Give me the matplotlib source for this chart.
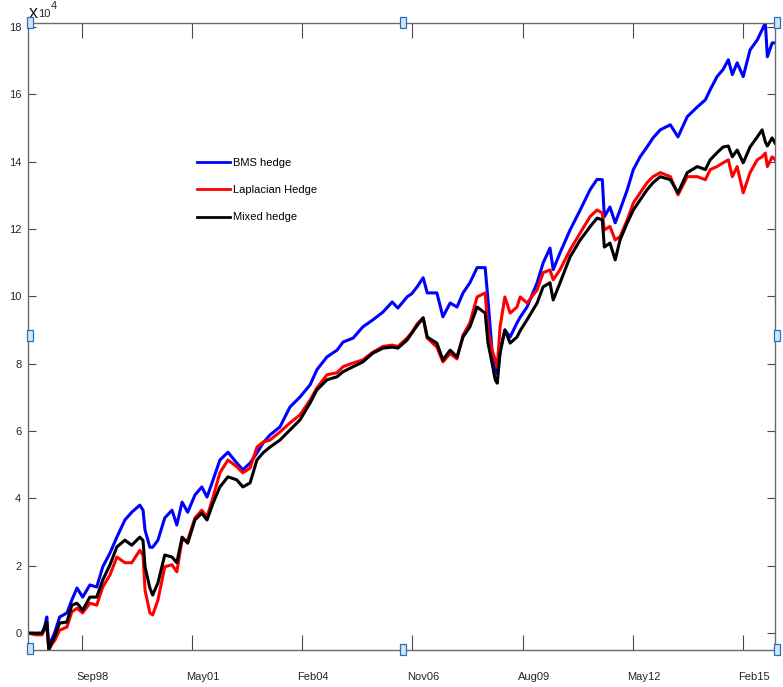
import numpy as np
import matplotlib
matplotlib.use('Agg')
import matplotlib.pyplot as plt
from matplotlib.patches import Rectangle
from matplotlib.transforms import ScaledTranslation

plt.rcParams['font.family'] = ['Liberation Sans', 'DejaVu Sans']

#%% Data: cumulative hedging P&L (units of 1e4), time in decimal years
t = [1997.34, 1997.53, 1997.68, 1997.75, 1997.80, 1997.85, 1997.92, 1998.00, 1998.12, 1998.30,
     1998.42, 1998.55, 1998.69, 1998.87, 1999.04, 1999.19, 1999.37, 1999.54, 1999.74, 1999.91,
     2000.11, 2000.19, 2000.24, 2000.36, 2000.43, 2000.56, 2000.73, 2000.91, 2001.03, 2001.16,
     2001.30, 2001.48, 2001.65, 2001.78, 2001.93, 2002.10, 2002.30, 2002.52, 2002.67, 2002.85,
     2003.02, 2003.17, 2003.34, 2003.59, 2003.84, 2004.09, 2004.34, 2004.51, 2004.76, 2005.01,
     2005.16, 2005.41, 2005.65, 2005.90, 2006.15, 2006.38, 2006.52, 2006.75, 2006.87, 2007.00,
     2007.15, 2007.25, 2007.49, 2007.64, 2007.82, 2007.99, 2008.14, 2008.31, 2008.49, 2008.69,
     2008.76, 2008.86, 2008.94, 2008.99, 2009.06, 2009.18, 2009.31, 2009.48, 2009.56, 2009.73,
     2009.98, 2010.13, 2010.30, 2010.38, 2010.55, 2010.80, 2011.05, 2011.30, 2011.47, 2011.60,
     2011.65, 2011.79, 2011.92, 2012.04, 2012.22, 2012.37, 2012.54, 2012.71, 2012.86, 2013.04,
     2013.29, 2013.48, 2013.71, 2013.96, 2014.16, 2014.28, 2014.45, 2014.60, 2014.73, 2014.83,
     2014.95, 2015.10, 2015.27, 2015.45, 2015.57, 2015.65, 2015.70, 2015.82, 2015.89]

bms = [0.00, -0.01, 0.00, 0.21, 0.48, -0.47, -0.19, 0.03, 0.48, 0.60,
       0.98, 1.34, 1.07, 1.43, 1.37, 1.97, 2.38, 2.85, 3.36, 3.59,
       3.80, 3.65, 3.06, 2.55, 2.55, 2.76, 3.42, 3.65, 3.21, 3.89,
       3.59, 4.10, 4.34, 4.04, 4.55, 5.14, 5.37, 5.05, 4.85, 5.05,
       5.35, 5.64, 5.88, 6.12, 6.71, 7.01, 7.37, 7.82, 8.20, 8.40,
       8.64, 8.76, 9.09, 9.30, 9.53, 9.83, 9.65, 9.98, 10.08, 10.28,
       10.55, 10.10, 10.10, 9.39, 9.80, 9.68, 10.10, 10.40, 10.85, 10.85,
       9.89, 8.40, 7.82, 7.69, 8.40, 9.00, 8.79, 9.21, 9.38, 9.68,
       10.40, 10.99, 11.43, 10.79, 11.29, 11.97, 12.56, 13.17, 13.47, 13.46,
       12.36, 12.65, 12.18, 12.56, 13.16, 13.76, 14.14, 14.43, 14.70, 14.94,
       15.09, 14.73, 15.33, 15.62, 15.83, 16.13, 16.52, 16.73, 17.02, 16.58,
       16.93, 16.52, 17.31, 17.61, 17.91, 18.12, 17.11, 17.52, 17.52]

laplace = [0.00, -0.05, -0.05, 0.11, 0.26, -0.48, -0.34, -0.21, 0.09, 0.18,
           0.63, 0.74, 0.60, 0.89, 0.83, 1.37, 1.73, 2.26, 2.09, 2.09,
           2.46, 2.31, 1.28, 0.60, 0.54, 0.98, 1.97, 2.03, 1.82, 2.76,
           2.76, 3.42, 3.65, 3.45, 4.04, 4.76, 5.14, 4.94, 4.76, 4.90,
           5.52, 5.67, 5.73, 5.97, 6.24, 6.48, 6.92, 7.28, 7.67, 7.73,
           7.91, 8.02, 8.11, 8.34, 8.51, 8.55, 8.51, 8.76, 8.93, 9.18,
           9.36, 8.76, 8.49, 8.05, 8.30, 8.14, 8.85, 9.21, 9.98, 10.10,
           9.00, 8.40, 8.11, 7.89, 9.09, 9.98, 9.50, 9.68, 9.98, 9.80,
           10.19, 10.70, 10.78, 10.49, 10.79, 11.38, 11.88, 12.37, 12.56, 12.47,
           11.97, 12.07, 11.67, 11.77, 12.27, 12.77, 13.07, 13.37, 13.55, 13.67,
           13.55, 13.01, 13.55, 13.55, 13.46, 13.76, 13.85, 13.96, 14.05, 13.55,
           13.85, 13.07, 13.67, 14.05, 14.14, 14.25, 13.85, 14.14, 14.05]

mixed = [0.00, 0.00, 0.00, 0.16, 0.33, -0.50, -0.29, -0.09, 0.30, 0.33,
         0.83, 0.89, 0.68, 1.07, 1.07, 1.58, 2.03, 2.56, 2.76, 2.61,
         2.85, 2.75, 1.97, 1.34, 1.13, 1.49, 2.32, 2.26, 2.09, 2.85,
         2.67, 3.36, 3.56, 3.36, 3.86, 4.34, 4.64, 4.55, 4.34, 4.46,
         5.14, 5.35, 5.52, 5.73, 6.03, 6.33, 6.83, 7.22, 7.52, 7.61,
         7.76, 7.91, 8.05, 8.31, 8.46, 8.49, 8.46, 8.70, 8.91, 9.13,
         9.36, 8.79, 8.61, 8.11, 8.40, 8.20, 8.79, 9.09, 9.68, 9.50,
         8.61, 8.02, 7.52, 7.42, 8.31, 9.00, 8.61, 8.79, 8.98, 9.30,
         9.80, 10.28, 10.40, 9.89, 10.40, 11.17, 11.67, 12.07, 12.32, 12.27,
         11.46, 11.58, 11.08, 11.67, 12.18, 12.56, 12.86, 13.16, 13.37, 13.55,
         13.46, 13.07, 13.67, 13.85, 13.76, 14.05, 14.26, 14.43, 14.46, 14.14,
         14.34, 13.96, 14.43, 14.73, 14.94, 14.58, 14.46, 14.70, 14.55]

# date ticks every 1000 days
xtick_pos = 1998.67 + np.arange(7) * 1000 / 365.25
xtick_lab = ['Sep98', 'May01', 'Feb04', 'Nov06', 'Aug09', 'May12', 'Feb15']
ytick_pos = np.arange(0, 20, 2)

#%% Plotting
W, H = 783, 687
fig = plt.figure(figsize=(W / 100, H / 100), dpi=100)
ax = fig.add_axes([28.3 / W, 1 - 650 / H, (775 - 28.3) / W, (650 - 22.7) / H])

ax.plot(t, bms, color='blue', lw=2.2, label='BMS hedge')
ax.plot(t, laplace, color='red', lw=2.2, label='Laplacian Hedge')
ax.plot(t, mixed, color='black', lw=2.2, label='Mixed hedge')

allv = np.concatenate([bms, laplace, mixed])
ax.set_xlim(t[0], t[-1])
ax.set_ylim(allv.min(), allv.max())

ax.set_xticks(xtick_pos)
ax.set_xticklabels(xtick_lab)
ax.set_yticks(ytick_pos)
ax.set_yticklabels([str(v) for v in ytick_pos])

for s in ax.spines.values():
    s.set_color('#6a6a6a')
    s.set_linewidth(1.0)
ax.tick_params(direction='in', top=True, right=True, color='#4a4a4a',
               labelcolor='#262626', labelsize=8)
ax.tick_params(axis='x', length=11, pad=16)
ax.tick_params(axis='y', length=6, pad=5)

shift = ScaledTranslation(11 / 100, 0, fig.dpi_scale_trans)
for lab in ax.get_xticklabels():
    lab.set_transform(lab.get_transform() + shift)

leg = ax.legend(loc='upper left', bbox_to_anchor=((197 - 28.3) / 746.7, (650 - 158) / 627.3),
                frameon=False, fontsize=8, handlelength=3.0, handletextpad=0.2,
                labelspacing=1.55, borderpad=0, borderaxespad=0)
for line in leg.get_lines():
    line.set_linewidth(2)

# exponent label
fig.text(29 / W, 1 - 18 / H, 'x', fontsize=13, color='#1a1a1a')
fig.text(38 / W, 1 - 17 / H, '10', fontsize=8, color='#262626')
fig.text(51 / W, 1 - 9 / H, '4', fontsize=8, color='#262626')

# selection handles around the axes
for cx, cy in [(30, 22), (403, 22), (777, 22), (30, 336), (777, 336),
               (30, 648), (403, 649), (777, 649)]:
    fig.add_artist(Rectangle(((cx - 3) / W, 1 - (cy + 5.5) / H), 6 / W, 11 / H,
                             transform=fig.transFigure, facecolor='#cfe5f6',
                             edgecolor='#2a6ebb', lw=0.9, zorder=10))

fig.savefig('out.png', dpi=100)
